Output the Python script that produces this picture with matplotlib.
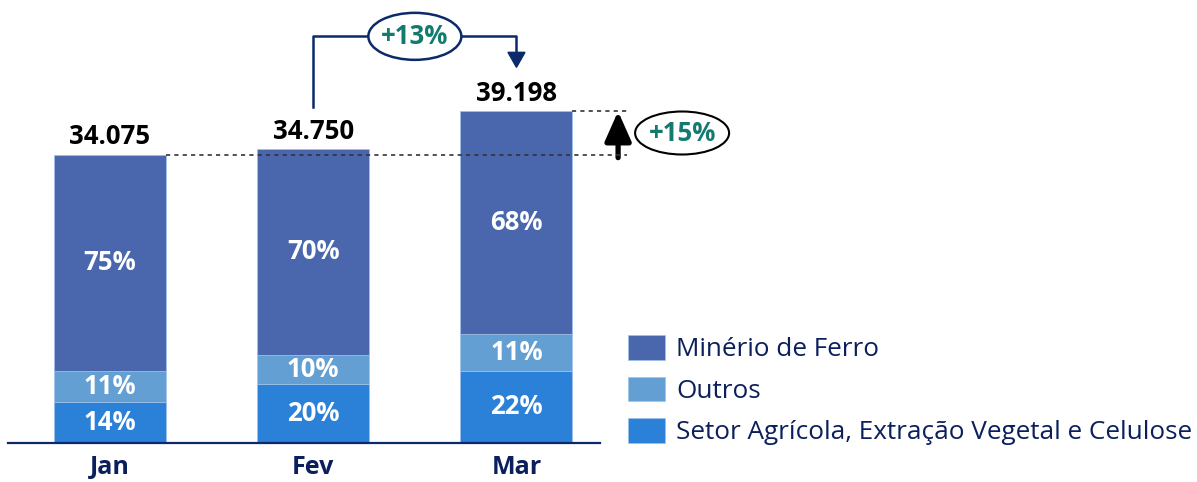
import matplotlib.pyplot as plt
import numpy as np
from matplotlib.patches import Ellipse

plt.rcParams['font.family'] = ['Open Sans', 'DejaVu Sans']

# data
months = ['Jan', 'Fev', 'Mar']
totals = [34075, 34750, 39198]
total_labels = ['34.075', '34.750', '39.198']
# share of each month's total, from bottom of bar to top
setor_pct = [14, 20, 22]
outros_pct = [11, 10, 11]
minerio_pct = [75, 70, 68]
series_names = ['Setor Agrícola, Extração Vegetal e Celulose', 'Outros', 'Minério de Ferro']
growth_labels = ['+13%', '+15%']  # Fev -> Mar, Jan -> Mar

colors = ['#2b80d8', '#639fd3', '#4a67ae']
navy = '#0b2a6b'
text_navy = '#0a1f5c'
teal = '#137a70'

W, H = 1197, 482
fig = plt.figure(figsize=(W / 100, H / 100), dpi=100)
ax = fig.add_axes([8 / W, 39.3 / H, 592 / W, 442.7 / H])
ax.set_xlim(-0.502, 2.411)
ax.set_ylim(0, 52370)

# size of one pixel in data units, used for the annotation offsets
upp = 52370 / 442.7
xpp = 2.913 / 592

x = np.arange(len(months))
width = 0.551
shares = np.array([setor_pct, outros_pct, minerio_pct], dtype=float)
heights = shares / shares.sum(axis=0) * np.array(totals)

bottoms = np.zeros(len(months))
handles = []
for h, pct, name, c in zip(heights, shares, series_names, colors):
    b = ax.bar(x, h, width, bottom=bottoms, color=c, label=name,
               edgecolor='#9fc3ea', linewidth=0.5)
    handles.append(b)
    for xi, b0, hi, p in zip(x, bottoms, h, pct):
        ax.text(xi, b0 + hi / 2, '%d%%' % p, ha='center', va='center',
                color='white', fontsize=18.5, fontweight='bold')
    bottoms += h

# totals on top of the bars
for xi, tot, lbl in zip(x, totals, total_labels):
    ax.annotate(lbl, (xi, tot), xytext=(0, 7.5), textcoords='offset points',
                ha='center', va='baseline', fontsize=18.5, fontweight='bold',
                color='black')

for s in ['top', 'left', 'right']:
    ax.spines[s].set_visible(False)
ax.spines['bottom'].set_color(navy)
ax.spines['bottom'].set_linewidth(1.6)
ax.set_yticks([])
ax.set_xticks(x, months)
ax.tick_params(axis='x', length=0, pad=9)
for t in ax.get_xticklabels():
    t.set_fontsize(18)
    t.set_fontweight('bold')
    t.set_color(text_navy)

# bracket Fev -> Mar with +13%
top_y = totals[2] + 75 * upp
tip_y = totals[2] + 44 * upp
ax.plot([x[1], x[1], x[2], x[2]],
        [totals[1] + 42 * upp, top_y, top_y, tip_y + 14 * upp],
        color=navy, lw=1.8, clip_on=False, zorder=4)
ax.fill([x[2] - 8.5 * xpp, x[2] + 8.5 * xpp, x[2]],
        [tip_y + 15 * upp, tip_y + 15 * upp, tip_y],
        color=navy, clip_on=False, zorder=4)
e1 = Ellipse(((x[1] + x[2]) / 2, top_y), 93 * xpp, 47 * upp, facecolor='white',
             edgecolor=navy, lw=1.8, clip_on=False, zorder=5)
ax.add_patch(e1)
ax.text((x[1] + x[2]) / 2, top_y, growth_labels[0], ha='center', va='center',
        color=teal, fontsize=18.5, fontweight='bold', zorder=6)

# dashed levels Jan -> Mar with +15%
right_x = x[2] + 0.544
ax.plot([x[0] + width / 2, right_x], [totals[0]] * 2, ls=(0, (2.5, 2.5)),
        color='#333333', lw=1.2, clip_on=False, zorder=4)
ax.plot([x[2] + width / 2, right_x], [totals[2]] * 2, ls=(0, (2.5, 2.5)),
        color='#333333', lw=1.2, clip_on=False, zorder=4)
arrow_x = x[2] + 0.5
ax.annotate('', xy=(arrow_x, totals[2]), xytext=(arrow_x, totals[0] - 3 * upp),
            arrowprops=dict(arrowstyle='-|>,head_width=0.4,head_length=0.9',
                            lw=3.8, color='black', mutation_scale=20,
                            shrinkA=0, shrinkB=0, capstyle='round'),
            annotation_clip=False)
mid_y = (totals[0] + totals[2]) / 2
e2 = Ellipse((x[2] + 0.815, mid_y), 94 * xpp, 43 * upp, facecolor='white',
             edgecolor='black', lw=1.5, clip_on=False, zorder=5)
ax.add_patch(e2)
ax.text(x[2] + 0.815, mid_y, growth_labels[1], ha='center', va='center',
        color=teal, fontsize=18.5, fontweight='bold', zorder=6)

fig.legend(handles=handles[::-1], labels=series_names[::-1], loc='upper left',
           bbox_to_anchor=(628 / W, (H - 335) / H), frameon=False,
           borderpad=0, borderaxespad=0, fontsize=18.8, handlelength=1.43,
           handleheight=1.08, handletextpad=0.42, labelspacing=0.55,
           labelcolor=text_navy)

plt.savefig('out.png', dpi=100)
